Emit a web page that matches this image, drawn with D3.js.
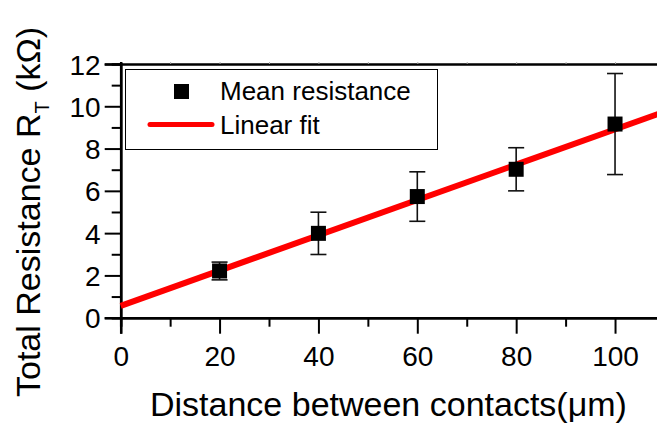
<!DOCTYPE html>
<html>
<head>
<meta charset="utf-8">
<script src="https://cdn.jsdelivr.net/npm/d3@7"></script>
<style>
  body { margin: 0; background: #ffffff; }
  svg  { display: block; font-family: 'Liberation Sans', Arial, sans-serif; }
</style>
</head>
<body>
<div id="chart"></div>
<script>
// values
var distances   = [20, 40, 60, 80, 100];
var resistances = [2.21, 3.99, 5.73, 7.02, 9.16];
var errors      = [0.42, 1.0, 1.17, 1.02, 2.39];
var fitParams   = [0.56, 0.0835];   // intercept, slope
var xTicks      = [0, 20, 40, 60, 80, 100];
var yTicks      = [0, 2, 4, 6, 8, 10, 12];
var legendNames = ['Mean resistance', 'Linear fit'];

drawChart();

function drawChart() {

  var w = 657;
  var h = 423;

  var svg = d3.select('#chart')
              .append('svg')
              .attr('width', w)
              .attr('height', h);

  // plot runs off the right edge of the picture
  var x = d3.scaleLinear().domain([0, 120]).range([120.7, 713.9]);
  var y = d3.scaleLinear().domain([0, 12]).range([317.7, 64]);

  var dataset = distances.map(function(d, i) {
    return { x: d, y: resistances[i], err: errors[i] };
  });

  // bottom axis, major + minor ticks
  var xMinor = d3.range(10, 120, 20);
  svg.append('g')
     .attr('transform', 'translate(0,' + y(0) + ')')
     .call(d3.axisBottom(x).tickValues(xMinor).tickSize(9).tickFormat(''))
     .call(styleAxis);

  svg.append('g')
     .attr('transform', 'translate(0,' + y(0) + ')')
     .call(d3.axisBottom(x).tickValues(xTicks).tickSize(16).tickPadding(12))
     .call(styleAxis)
     .selectAll('text')
     .attr('dy', '0.71em')
     .style('font-size', '28px');

  // left axis
  var yMinor = d3.range(1, 12, 2);
  svg.append('g')
     .attr('transform', 'translate(' + x(0) + ',0)')
     .call(d3.axisLeft(y).tickValues(yMinor).tickSize(9).tickFormat(''))
     .call(styleAxis);

  svg.append('g')
     .attr('transform', 'translate(' + x(0) + ',0)')
     .call(d3.axisLeft(y).tickValues(yTicks).tickSize(16).tickPadding(4))
     .call(styleAxis)
     .selectAll('text')
     .attr('dy', '0.36em')
     .style('font-size', '28px');

  // top axis, tiny ticks only
  svg.append('g')
     .attr('transform', 'translate(0,' + y(12) + ')')
     .call(d3.axisTop(x).tickValues(d3.range(10, 120, 10)).tickSize(2).tickFormat(''))
     .call(styleAxis)
     .selectAll('.tick line')
     .attr('stroke', '#aaaaaa')
     .attr('stroke-width', 1);

  // linear fit
  var fit = function(d) { return fitParams[0] + fitParams[1] * d };
  svg.append('line')
     .attr('x1', x(0))
     .attr('y1', y(fit(0)))
     .attr('x2', x(120))
     .attr('y2', y(fit(120)))
     .attr('stroke', '#ff0000')
     .attr('stroke-width', 6);

  // error bars
  var bars = svg.selectAll('.errbar')
                .data(dataset)
                .enter()
                .append('g')
                .attr('class', 'errbar')
                .attr('stroke', '#111111')
                .attr('stroke-width', 1.6);

  bars.append('line')
      .attr('x1', function(d) { return x(d.x) })
      .attr('x2', function(d) { return x(d.x) })
      .attr('y1', function(d) { return y(d.y + d.err) })
      .attr('y2', function(d) { return y(d.y - d.err) });

  bars.append('line')
      .attr('x1', function(d) { return x(d.x) - 8 })
      .attr('x2', function(d) { return x(d.x) + 8 })
      .attr('y1', function(d) { return y(d.y + d.err) })
      .attr('y2', function(d) { return y(d.y + d.err) });

  bars.append('line')
      .attr('x1', function(d) { return x(d.x) - 8 })
      .attr('x2', function(d) { return x(d.x) + 8 })
      .attr('y1', function(d) { return y(d.y - d.err) })
      .attr('y2', function(d) { return y(d.y - d.err) });

  // mean points
  svg.selectAll('.point')
     .data(dataset)
     .enter()
     .append('rect')
     .attr('class', 'point')
     .attr('x', function(d) { return x(d.x) - 7.5 })
     .attr('y', function(d) { return y(d.y) - 7.5 })
     .attr('width', 15)
     .attr('height', 15)
     .attr('fill', '#000000');

  // legend
  var legend = svg.append('g');

  legend.append('rect')
        .attr('x', 125.5)
        .attr('y', 69.5)
        .attr('width', 312)
        .attr('height', 80)
        .attr('fill', '#ffffff')
        .attr('stroke', '#000000')
        .attr('stroke-width', 1);

  legend.append('rect')
        .attr('x', 174)
        .attr('y', 84)
        .attr('width', 15)
        .attr('height', 15)
        .attr('fill', '#000000');

  legend.append('line')
        .attr('x1', 150)
        .attr('x2', 212)
        .attr('y1', 124.5)
        .attr('y2', 124.5)
        .attr('stroke', '#ff0000')
        .attr('stroke-width', 5)
        .attr('stroke-linecap', 'round');

  legend.selectAll('.legendText')
        .data(legendNames)
        .enter()
        .append('text')
        .attr('class', 'legendText')
        .attr('x', 220)
        .attr('y', function(d, i) { return 99.5 + i * 34 })
        .style('font-size', '26px')
        .text(function(d) { return d });

  // axis titles
  svg.append('text')
     .attr('x', 150)
     .attr('y', 416)
     .style('font-size', '34px')
     .text('Distance between contacts(\u03bcm)');

  var yTitle = svg.append('text')
                  .attr('transform', 'translate(40,397) rotate(-90)')
                  .style('font-size', '34px');

  yTitle.append('tspan').text('Total Resistance R');
  yTitle.append('tspan')
        .attr('dy', 9)
        .style('font-size', '20px')
        .text('T');
  yTitle.append('tspan')
        .attr('dy', -9)
        .text(' (k\u03a9)');
}

function styleAxis(g) {

  g.select('.domain')
   .attr('stroke', '#000000')
   .attr('stroke-width', 2.5);

  g.selectAll('.tick line')
   .attr('stroke', '#000000')
   .attr('stroke-width', 2);

  g.selectAll('.tick text')
   .attr('fill', '#000000');
}
</script>
</body>
</html>
